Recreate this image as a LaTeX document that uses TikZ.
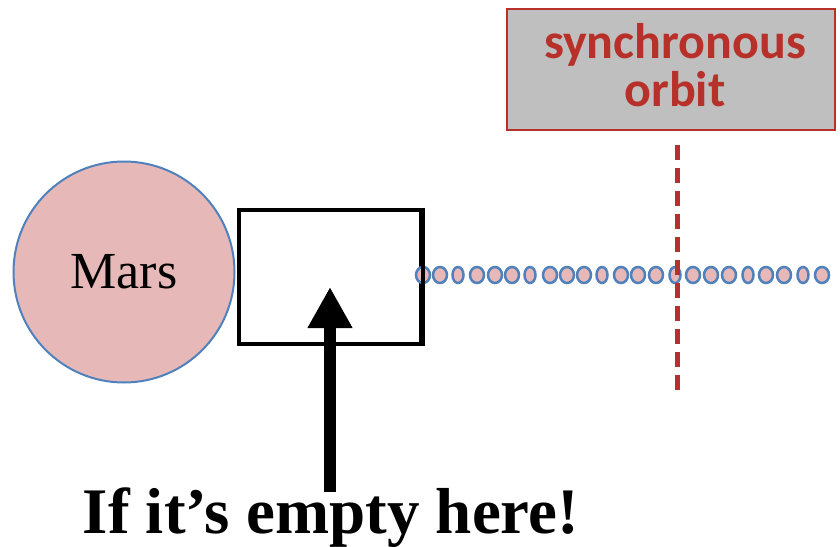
\documentclass[tikz,border=0pt]{standalone}
\usepackage{fontspec}
\setmainfont{Liberation Serif}
\newfontfamily\calib{Carlito}
\usetikzlibrary{arrows.meta}
\definecolor{marsfill}{HTML}{E6B8B7}
\definecolor{planetblue}{HTML}{4F81BD}
\definecolor{orbitred}{HTML}{B7312A}
\definecolor{labelgray}{HTML}{BFBFBF}
\tikzset{
  planet/.style={circle, draw=planetblue, line width=2pt, fill=marsfill, minimum size=221pt, inner sep=0pt},
  emptybox/.style={draw=black, line width=4pt, minimum width=182pt, minimum height=134pt, inner sep=0pt},
  orbitbox/.style={draw=orbitred, line width=2pt, fill=labelgray, minimum width=328pt, minimum height=121pt, inner sep=0pt},
  orbittext/.style={align=center, text=orbitred, inner sep=0pt, font=\calib\bfseries\fontsize{50}{48}\selectfont},
  bead/.style={draw=planetblue, line width=2.5pt, fill=marsfill},
  syncline/.style={draw=orbitred, line width=5pt, dash pattern=on 15pt off 8pt},
  bigarrow/.style={line width=12pt, -{Triangle[width=42pt,length=41pt]}}
}
\begin{document}
\begin{tikzpicture}[x=1pt,y=-1pt]
\useasboundingbox (0,0) rectangle (840,546);
% planet
\node[planet, font=\fontsize{52}{60}\selectfont] (mars) at (124,272) {Mars};
% empty region beside the planet
\node[emptybox] (box) at (329.5,276.5) {};
% label box for the synchronous orbit
\node[orbitbox] (sync) at (671,69) {};
\node[orbittext] (synctext) at (675,65) {synchronous\\[0pt]orbit};
% tether of beads
\foreach \x/\r in {423/7,440/7,458/5.5,477/7,495/7,512/7,530/5.5,550/7,567/7,584/7,602/5.5,621/7,638/7,656/7,675/5.5,693/7,711/7,729/7,748/5.5,766/7,784/7,803/5.5,822/7}{
  \draw[bead] (\x,275) ellipse ({\r pt} and 8pt);
}
\draw[draw=black, line width=4pt] (box.north east) -- (box.south east);
% synchronous orbit marker
\coordinate (synctop) at (677,145);
\coordinate (syncbot) at (677,392);
\draw[syncline] (synctop) -- (syncbot);
% caption and arrow
\node[font=\bfseries\fontsize{65}{70}\selectfont, anchor=base] (caption) at (331,533) {If it’s empty here!};
\coordinate (tip) at (330,287);
\draw[bigarrow] (330,492) -- (tip);
\end{tikzpicture}
\end{document}
